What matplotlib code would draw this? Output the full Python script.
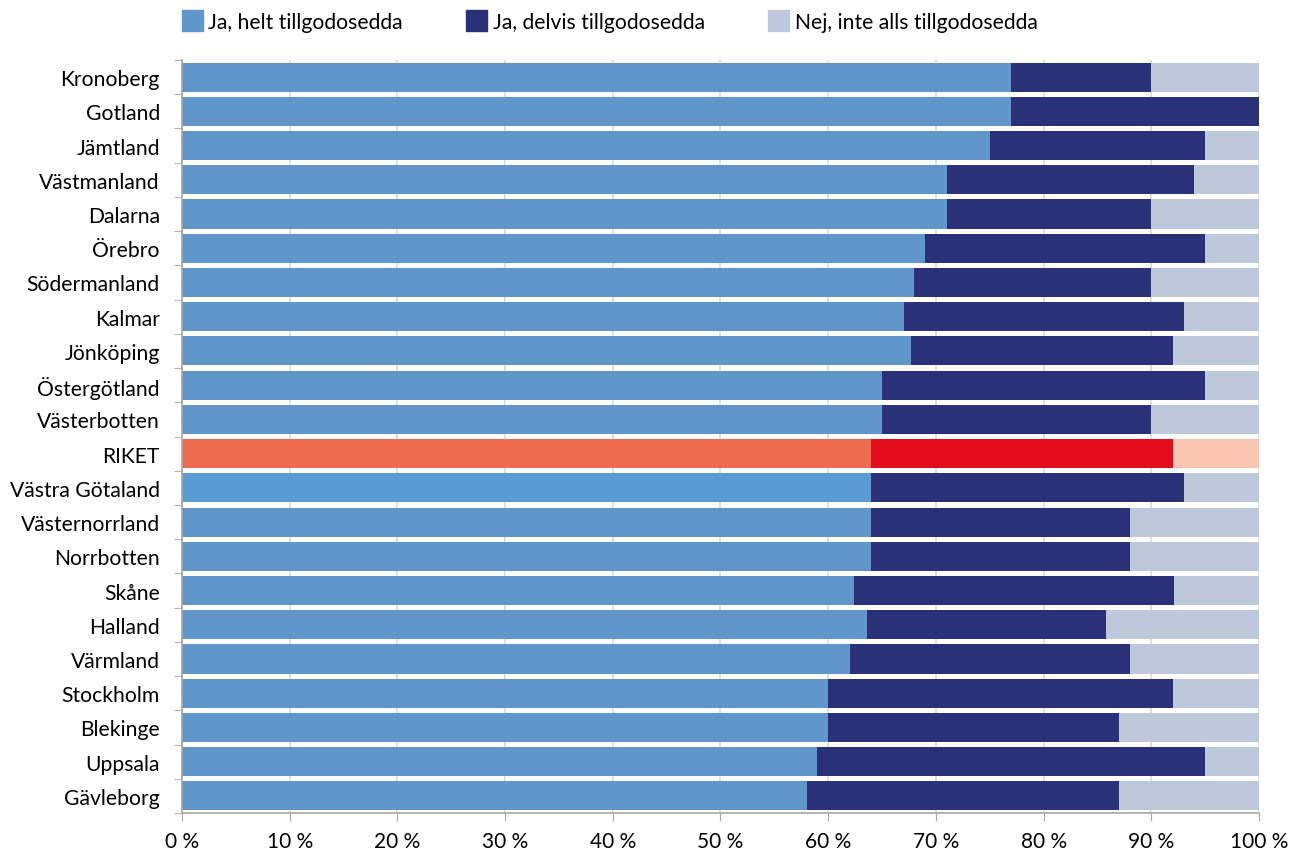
import matplotlib
matplotlib.use('Agg')
import matplotlib.pyplot as plt
from matplotlib.patches import Patch
import numpy as np

plt.rcParams['font.family'] = ['Lato', 'DejaVu Sans']

regions = ['Kronoberg', 'Gotland', 'Jämtland', 'Västmanland', 'Dalarna', 'Örebro',
           'Södermanland', 'Kalmar', 'Jönköping', 'Östergötland', 'Västerbotten',
           'RIKET', 'Västra Götaland', 'Västernorrland', 'Norrbotten', 'Skåne',
           'Halland', 'Värmland', 'Stockholm', 'Blekinge', 'Uppsala', 'Gävleborg']
helt = [77, 77, 75, 71, 71, 69, 68, 67, 67.7, 65, 65,
        64, 64, 64, 64, 62.4, 63.6, 62, 60, 60, 59, 58]
delvis = [13, 23, 20, 23, 19, 26, 22, 26, 24.3, 30, 25,
          28, 29, 24, 24, 29.7, 22.2, 26, 32, 27, 36, 29]
nej = [10, 0, 5, 6, 10, 5, 10, 7, 8, 5, 10,
       8, 7, 12, 12, 7.9, 14.2, 12, 8, 13, 5, 13]
legend_labels = ['Ja, helt tillgodosedda', 'Ja, delvis tillgodosedda', 'Nej, inte alls tillgodosedda']

c_helt, c_delvis, c_nej = '#6096C9', '#2B3178', '#BEC8DC'
riket_colors = ['#EE6B50', '#E10C1C', '#F8C6B1']

fig = plt.figure(figsize=(13.03, 8.54), dpi=100)
ax = fig.add_axes([0.1397, 0.0468, 0.8265, 0.8818])

y = np.arange(len(regions))
h = np.array(helt)
d = np.array(delvis)
n = np.array(nej)
cols = [[c_helt, c_delvis, c_nej] for _ in regions]
cols[regions.index('RIKET')] = riket_colors
cols[regions.index('Västra Götaland')][0] = '#5A9BD4'
cols = np.array(cols)

ax.barh(y, h, height=0.85, color=cols[:, 0], zorder=2)
ax.barh(y, d, left=h, height=0.85, color=cols[:, 1], zorder=2)
ax.barh(y, n, left=h + d, height=0.85, color=cols[:, 2], zorder=2)

ax.set_ylim(len(regions) - 0.5, -0.5)
ax.set_xlim(0, 100)
ax.set_yticks(y)
ax.set_yticklabels(regions, fontsize=15.2)
ax.set_yticks(np.arange(len(regions) + 1) - 0.5, minor=True)
ax.tick_params(axis='y', which='major', length=0, pad=16)
ax.tick_params(axis='y', which='minor', length=6, color='#A6A6A6')
ax.set_xticks(np.arange(0, 101, 10))
ax.set_xticklabels([f'{v} %' for v in range(0, 101, 10)], fontsize=15)
ax.tick_params(axis='x', length=6, color='#A6A6A6', pad=7)
ax.xaxis.grid(True, color='#D9D9D9', linewidth=1.2, zorder=0)
ax.set_axisbelow(True)
for s in ['top', 'right']:
    ax.spines[s].set_visible(False)
for s in ['left', 'bottom']:
    ax.spines[s].set_color('#A6A6A6')
    ax.spines[s].set_linewidth(1.2)

handles = [Patch(color=c) for c in [c_helt, c_delvis, c_nej]]
fig.legend(handles, legend_labels, loc='upper left', bbox_to_anchor=(0.1397, 0.987), ncol=3,
           frameon=False, fontsize=15.2, handlelength=1.0, handleheight=1.15,
           handletextpad=0.25, columnspacing=3.0, borderpad=0, borderaxespad=0)

fig.savefig('out.png', dpi=100)
